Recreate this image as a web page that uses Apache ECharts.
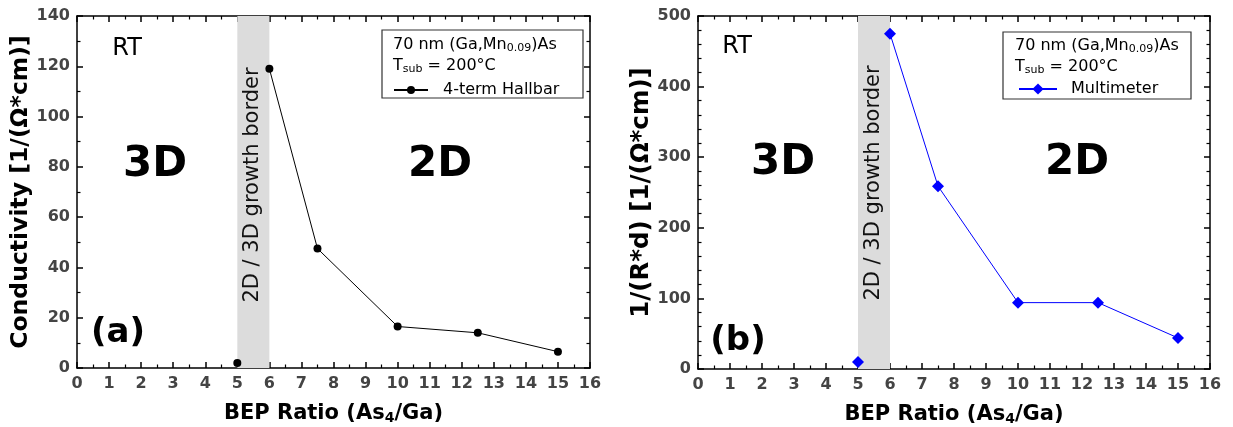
<!DOCTYPE html>
<html><head><meta charset="utf-8">
<script src="https://cdn.jsdelivr.net/npm/echarts@6/dist/echarts.min.js"></script>
<style>html,body{margin:0;padding:0;background:#fff}#c{width:1233px;height:427px}</style>
</head><body><div id="c"></div>
<script>
const bepRatio = [5, 6, 7.5, 10, 12.5, 15];
const conductivity = [2, 119, 47.5, 16.5, 14, 6.5];
const invRd = [10, 475, 259, 94, 94, 44];
const xTicks = {min: 0, max: 16, interval: 1};
const yLeftTicks = {min: 0, max: 140, interval: 20};
const yRightTicks = {min: 0, max: 500, interval: 100};
const band = [5, 6];

const F = 'DejaVu Sans';
const chart = echarts.init(document.getElementById('c'));
const axLine = {show: true, onZero: false, lineStyle: {color: '#000', width: 1.5}};
const tick = {show: true, inside: true, length: 6, lineStyle: {color: '#000', width: 1.5}};
const mtick = {show: true, length: 3.5, lineStyle: {color: '#000', width: 1.2}};
const lbl = {color: '#444', fontFamily: F, fontWeight: 'bold', fontSize: 16};
function nameStyle(sz) {
  return {color: '#000', fontFamily: F, fontWeight: 'bold', fontSize: sz,
    rich: {s: {fontSize: 14, fontWeight: 'bold', fontFamily: F, color: '#000', verticalAlign: 'bottom', padding: [8,0,0,0]}}};
}

function xAx(grid, bottom) {
  return {type: 'value', gridIndex: grid, position: bottom ? 'bottom' : 'top', min: xTicks.min, max: xTicks.max, interval: xTicks.interval,
    axisLine: axLine, axisTick: tick, minorTick: Object.assign({splitNumber: 2}, mtick),
    splitLine: {show: false}, axisLabel: bottom ? Object.assign({margin: 8}, lbl) : {show: false},
    name: bottom ? 'BEP Ratio (As{s|4}/Ga)' : '', nameLocation: 'middle', nameGap: 35, nameTextStyle: nameStyle(21)};
}
function yAx(grid, left, t, split, name, gap, sz) {
  return {type: 'value', gridIndex: grid, position: left ? 'left' : 'right', min: t.min, max: t.max, interval: t.interval,
    axisLine: axLine, axisTick: tick, minorTick: Object.assign({splitNumber: split}, mtick),
    splitLine: {show: false}, axisLabel: left ? Object.assign({margin: 7}, lbl) : {show: false},
    name: left ? name : '', nameLocation: 'middle', nameGap: gap, nameTextStyle: nameStyle(sz || 20)};
}
const bandArea = {silent: true, itemStyle: {color: '#dcdcdc'}, data: [[{xAxis: band[0]}, {xAxis: band[1]}]]};

const sub = {a: {fontFamily: F, fontSize: 16, color: '#000'}, s: {fontFamily: F, fontSize: 11, color: '#000', verticalAlign: 'bottom', padding: [7,0,0,0]}};
function boxTexts(x, y) {
  return [
    {type: 'text', left: x, top: y, style: {text: '{a|70 nm (Ga,Mn}{s|0.09}{a|)As}', rich: sub}},
    {type: 'text', left: x, top: y + 21, style: {text: '{a|T}{s|sub}{a| = 200°C}', rich: sub}}
  ];
}
function bigText(x, y, t, size, weight) {
  return {type: 'text', x: x, y: y, style: {text: t, fontFamily: F, fontSize: size, fontWeight: weight, fill: '#000', align: 'center', verticalAlign: 'middle'}};
}
function bandText(x, y) {
  return {type: 'text', x: x, y: y, rotation: Math.PI / 2, style: {text: '2D / 3D growth border', fontFamily: F, fontSize: 21, fill: '#111', align: 'center', verticalAlign: 'middle'}, z: 10};
}
const pts = (ys) => bepRatio.map((x, i) => [x, ys[i]]);
const hall = pts(conductivity), multi = pts(invRd);
const blk = {symbol: 'circle', symbolSize: 8, lineStyle: {color: '#000', width: 1}, itemStyle: {color: '#000'}, z: 5};
const blu = {symbol: 'diamond', symbolSize: 12, lineStyle: {color: '#0000ff', width: 1}, itemStyle: {color: '#0000ff'}, z: 5};

chart.setOption({
  animation: false,
  grid: [
    {left: 77, right: 643, top: 16, bottom: 59, outerBoundsMode: 'none', containLabel: false},
    {left: 698, right: 23, top: 16, bottom: 58, outerBoundsMode: 'none', containLabel: false}
  ],
  xAxis: [xAx(0, true), xAx(0, false), xAx(1, true), xAx(1, false)],
  yAxis: [
    yAx(0, true, yLeftTicks, 2, 'Conductivity [1/(Ω*cm)]', 43, 23.5), yAx(0, false, yLeftTicks, 2, '', 0),
    yAx(1, true, yRightTicks, 5, '1/(R*d) [1/(Ω*cm)]', 43, 24.5), yAx(1, false, yRightTicks, 5, '', 0)
  ],
  legend: [
    {data: ['4-term Hallbar'], left: 388, top: 77, itemWidth: 34, itemHeight: 10, textStyle: {fontFamily: F, fontSize: 16, color: '#000', padding: [0,0,0,10]}},
    {data: ['Multimeter'], left: 1013, top: 76, itemWidth: 38, itemHeight: 14, textStyle: {fontFamily: F, fontSize: 16, color: '#000', padding: [0,0,0,9]}}
  ],
  series: [
    Object.assign({name: '4-term Hallbar', type: 'line', xAxisIndex: 0, yAxisIndex: 0, data: hall.slice(0, 1), markArea: bandArea}, blk),
    Object.assign({name: '4-term Hallbar', type: 'line', xAxisIndex: 0, yAxisIndex: 0, data: hall.slice(1)}, blk),
    Object.assign({name: 'Multimeter', type: 'line', xAxisIndex: 2, yAxisIndex: 2, data: multi.slice(0, 1), markArea: bandArea}, blu),
    Object.assign({name: 'Multimeter', type: 'line', xAxisIndex: 2, yAxisIndex: 2, data: multi.slice(1)}, blu)
  ],
  graphic: [
    {type: 'rect', shape: {x: 382, y: 30, width: 201, height: 68}, style: {fill: '#fff', stroke: '#333', lineWidth: 1.2}, z: 1},
    {type: 'rect', shape: {x: 1003, y: 32, width: 188, height: 67}, style: {fill: '#fff', stroke: '#333', lineWidth: 1.2}, z: 1},
    ...boxTexts(393, 37).map(g => Object.assign(g, {z: 2})),
    ...boxTexts(1015, 38).map(g => Object.assign(g, {z: 2})),
    bigText(127, 49, 'RT', 24, 'normal'),
    bigText(155, 165, '3D', 42, 'bold'),
    bigText(440, 165, '2D', 42, 'bold'),
    bigText(118, 333, '(a)', 34, 'bold'),
    bigText(737, 47, 'RT', 24, 'normal'),
    bigText(783, 163, '3D', 42, 'bold'),
    bigText(1077, 163, '2D', 42, 'bold'),
    bigText(738, 341, '(b)', 34, 'bold'),
    bandText(253, 185),
    bandText(874, 183)
  ]
});
</script></body></html>
